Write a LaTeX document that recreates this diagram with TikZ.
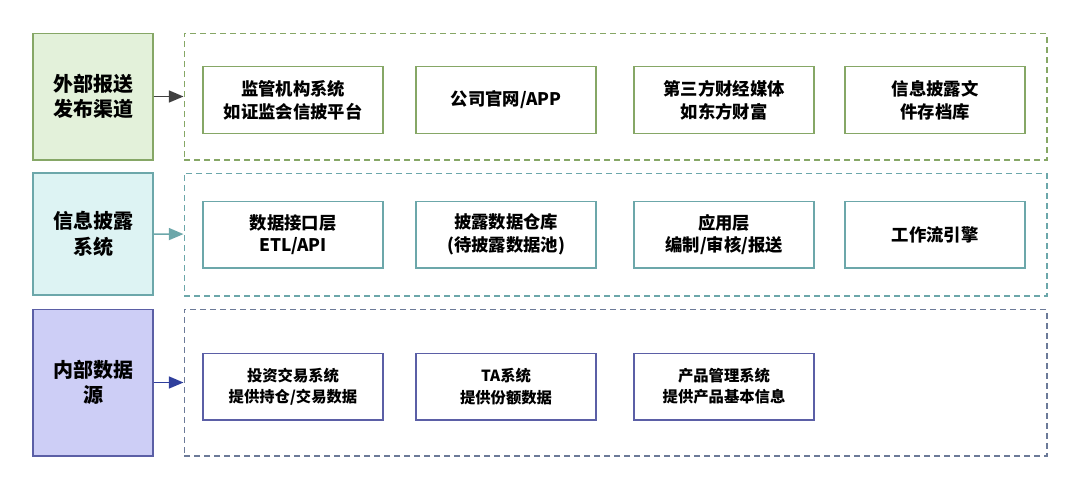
\documentclass[tikz,border=0pt]{standalone}
\usepackage{fontspec}
\usepackage{xcolor}
\usepackage{tikz}
\usetikzlibrary{arrows,arrows.meta,positioning}
\setmainfont{Noto Sans CJK SC}
\definecolor{gline}{HTML}{86A766}
\definecolor{gfill}{HTML}{E3F1DA}
\definecolor{tline}{HTML}{6CA7AA}
\definecolor{tfill}{HTML}{DDF3F3}
\definecolor{bline}{HTML}{5B5FA6}
\definecolor{bfill}{HTML}{CDCEF6}
\definecolor{barrow}{HTML}{2F3F9C}
\definecolor{bdash}{HTML}{6C7A98}

\begin{document}
\begin{tikzpicture}[x=0.75pt,y=-0.75pt,line width=1pt,
  layer/.style={draw,minimum width=90pt,align=center,font=\fontsize{15}{19}\selectfont\bfseries},
  group/.style={draw,dashed,dash pattern=on 4.5pt off 3pt,minimum width=647pt},
  item/.style={draw,minimum width=135pt,minimum height=50pt,align=center,font=\fontsize{13}{17}\selectfont\bfseries},
  link/.style={-{Triangle[length=11pt,width=9pt]},line width=1.2pt}]
\useasboundingbox (0,0) rectangle (1080,489);

\node[layer,draw=gline,fill=gfill,minimum height=95pt] (L1) at (93,96.5) {外部报送\\发布渠道};
\node[layer,draw=tline,fill=tfill,minimum height=91.5pt] (L2) at (93,234) {信息披露\\系统};
\node[layer,draw=bline,fill=bfill,minimum height=110pt] (L3) at (93,382.5) {内部数据\\源};

\node[group,draw=gline,minimum height=95pt] (G1) at (615.5,96.5) {};
\node[group,draw=tline,minimum height=92pt] (G2) at (615.5,234.5) {};
\node[group,draw=bdash,minimum height=110pt] (G3) at (615.5,382.5) {};

\node[item,draw=gline] (A1) at (293,100) {监管机构系统\\如证监会信披平台};
\node[item,draw=gline] (A2) at (506,100) {公司官网/APP};
\node[item,draw=gline] (A3) at (724,100) {第三方财经媒体\\如东方财富};
\node[item,draw=gline] (A4) at (935,100) {信息披露文\\件存档库};

\node[item,draw=tline] (B1) at (293,234.5) {数据接口层\\ETL/API};
\node[item,draw=tline] (B2) at (506,234.5) {披露数据仓库\\(待披露数据池)};
\node[item,draw=tline] (B3) at (724,234.5) {应用层\\编制/审核/报送};
\node[item,draw=tline] (B4) at (935,234.5) {工作流引擎};

\node[item,draw=bline,font=\fontsize{11.5}{16}\selectfont\bfseries] (C1) at (293,386.5) {投资交易系统\\提供持仓/交易数据};
\node[item,draw=bline,font=\fontsize{11.5}{16}\selectfont\bfseries] (C2) at (506,386.5) {TA系统\\提供份额数据};
\node[item,draw=bline,font=\fontsize{11.5}{16}\selectfont\bfseries] (C3) at (724,386.5) {产品管理系统\\提供产品基本信息};

\draw[link,draw=black!75,fill=black!75] (L1) -- (G1);
\draw[link,draw=tline,fill=tline] (L2) -- (G2);
\draw[link,draw=barrow,fill=barrow] (L3) -- (G3);

\end{tikzpicture}
\end{document}
